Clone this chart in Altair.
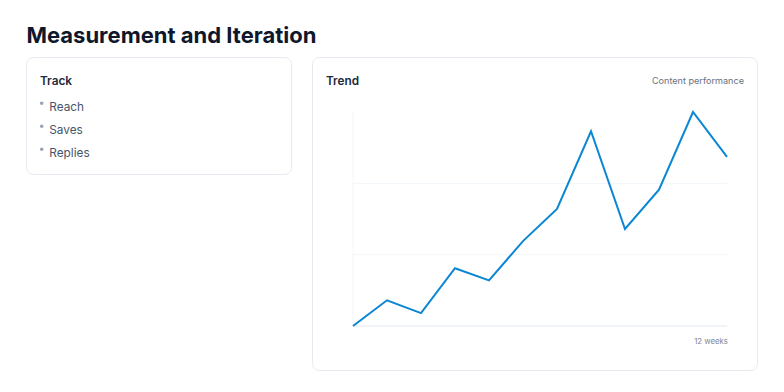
import altair as alt
import pandas as pd

# ---- data ----
weeks = list(range(1, 13))
performance = [0.0, 3.6, 1.8, 8.1, 6.4, 11.9, 16.4, 27.3, 13.6, 19.1, 30.0, 23.7]
grid_values = [0, 10, 20]
track_items = ["Reach", "Saves", "Replies"]

title_text = "Measurement and Iteration"
left_card_title = "Track"
right_card_title = "Trend"
right_card_subtitle = "Content performance"
x_caption = "12 weeks"

FONT = "Inter"
LW, RW, H = 296, 472, 376

line_df = pd.DataFrame({"week": weeks, "value": performance})
grid_df = pd.DataFrame({"g": grid_values})
items_df = pd.DataFrame({"item": track_items, "idx": list(range(len(track_items)))})

xscale = alt.Scale(domain=[1, 12], range=[49, 423])
yscale = alt.Scale(domain=[0, 30], range=[318, 104])
iscale = alt.Scale(domain=[0, 2], range=[102.5, 148.5])

one = alt.Data(values=[{}])

# small dot drawn ~7px above the text baseline (custom symbol, scaled by sqrt(size)/2)
BULLET = "M-1,-4.2A1,1,0,1,1,1,-4.2A1,1,0,1,1,-1,-4.2Z"


def card(x, x2, y, y2):
    return alt.Chart(one).mark_rect(
        fill="white", stroke="#e6eaf0", strokeWidth=1, cornerRadius=7
    ).encode(x=alt.value(x), x2=alt.value(x2), y=alt.value(y), y2=alt.value(y2))


def label(txt, x, y, size, color, weight="normal", align="left"):
    return alt.Chart(one).mark_text(
        text=txt, font=FONT, fontSize=size, color=color, fontWeight=weight,
        align=align, baseline="alphabetic"
    ).encode(x=alt.value(x), y=alt.value(y))


# ---- left panel ----
title = label(title_text, 18.5, 35, 22, "#0f172a", 700)
left_card = card(18.5, 283.5, 49.5, 166.5)
track_title = label(left_card_title, 32, 76.5, 11.8, "#1e293b", 600)
bullets = alt.Chart(items_df).mark_point(
    shape=BULLET, size=12, filled=True, color="#94a3b8", opacity=1, strokeWidth=0
).encode(
    x=alt.value(33.7),
    y=alt.Y("idx:Q", scale=iscale, axis=None),
)
items = alt.Chart(items_df).mark_text(
    font=FONT, fontSize=11.8, color="#475569", align="left", baseline="alphabetic"
).encode(
    x=alt.value(41.3),
    y=alt.Y("idx:Q", scale=iscale, axis=None),
    text="item:N",
)
left = alt.layer(left_card, title, track_title, bullets, items).properties(width=LW, height=H)

# ---- right panel ----
right_card = card(8.5, 453.5, 49.5, 362.5)
trend_title = label(right_card_title, 22, 76.5, 11.8, "#1e293b", 600)
subtitle = label(right_card_subtitle, 440, 76, 9.1, "#6b7280", "normal", "right")
caption = label(x_caption, 424, 336, 7.8, "#7c879a", "normal", "right")

grid = alt.Chart(grid_df).mark_rule(strokeWidth=1).encode(
    y=alt.Y("g:Q", scale=yscale, axis=None),
    x=alt.value(49), x2=alt.value(423),
    color=alt.condition(alt.datum.g == 0, alt.value("#e2e8f0"), alt.value("#f1f5f9")),
)
vaxis = alt.Chart(grid_df).transform_filter(alt.datum.g == 0).mark_rule(
    color="#f1f5f9", strokeWidth=1
).encode(
    x=alt.value(49),
    y=alt.Y("g:Q", scale=yscale, axis=None),
    y2=alt.value(104),
)
line = alt.Chart(line_df).mark_line(color="#0a86d3", strokeWidth=2).encode(
    x=alt.X("week:Q", scale=xscale, axis=None),
    y=alt.Y("value:Q", scale=yscale, axis=None),
)
right = alt.layer(right_card, trend_title, subtitle, caption, grid, vaxis, line).properties(
    width=RW, height=H
)

chart = alt.hconcat(left, right, spacing=0, bounds="flush").properties(
    padding=0, background="white"
).configure_view(stroke=None)

chart.save("out.html", embed_options={"renderer": "svg", "actions": False})
